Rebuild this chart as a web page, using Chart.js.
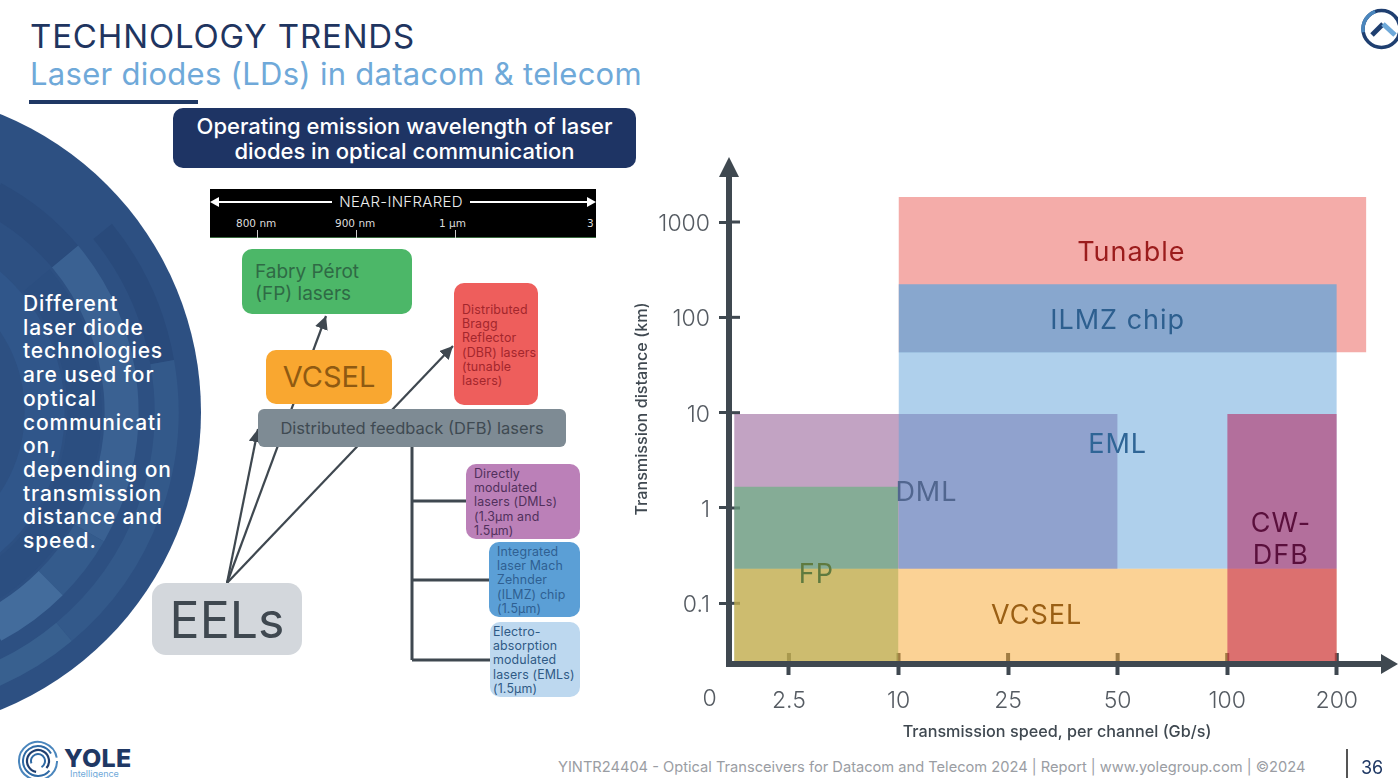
<!DOCTYPE html>
<html lang="en">
<head>
  <meta charset="UTF-8" />
  <title>Laser diodes (LDs) in datacom &amp; telecom</title>
  <script src="https://cdn.jsdelivr.net/npm/chart.js@4.4.0"></script>
  <style>
    * { box-sizing: border-box; margin: 0; padding: 0; }
    html, body { width: 1398px; height: 778px; overflow: hidden; background: #fff; font-family: 'Inter', sans-serif; }
    .abs { position: absolute; }
    .box { position: absolute; border-radius: 10px; }
    .small { font-size: 12.4px; line-height: 14.2px; letter-spacing: .15px; padding-top: 3px; }
    #chart { position: absolute; left: 620px; top: 150px; }
    svg { position: absolute; left: 0; top: 0; }
  </style>
</head>
<body>
  <svg id="decor" width="1398" height="778"></svg>

  <div class="abs" style="left:30px;top:16px;font-size:33px;line-height:40px;letter-spacing:.85px;color:#1f3560">TECHNOLOGY TRENDS</div>
  <div class="abs" style="left:30px;top:54px;font-size:31px;line-height:40px;letter-spacing:.28px;color:#6fa9d9;white-space:nowrap">Laser diodes (LDs) in datacom &amp; telecom</div>
  <div class="abs" style="left:29px;top:100px;width:169px;height:4px;background:#1f3864"></div>

  <div class="abs" style="left:23px;top:292px;font-size:21px;line-height:23.7px;font-weight:500;letter-spacing:.9px;color:#fff;white-space:nowrap">Different<br>laser diode<br>technologies<br>are used for<br>optical<br>communicati<br>on,<br>depending on<br>transmission<br>distance and<br>speed.</div>

  <div class="box" style="left:173px;top:108px;width:463px;height:60px;background:#1e3464;color:#fff;text-align:center;font-size:22px;line-height:25px;font-weight:500;padding-top:6px">Operating emission wavelength of laser<br>diodes in optical communication</div>

  <!-- spectrum strip -->
  <div class="abs" style="left:210px;top:189px;width:386px;height:49px;background:#000;border-bottom:1px solid #3a6a3f;color:#ddd;font-family:'DejaVu Sans';font-size:10.5px">
    <div class="abs" style="left:8px;top:12px;width:370px;height:1.5px;background:#fff"></div>
    <div class="abs" style="left:0;top:8px;border:5px solid transparent;border-left:0;border-right:9px solid #fff;width:0;height:0"></div>
    <div class="abs" style="right:0;top:8px;border:5px solid transparent;border-right:0;border-left:9px solid #fff;width:0;height:0"></div>
    <div class="abs" style="left:122px;top:4px;width:138px;background:#000;text-align:center;font-family:'Inter';font-size:15px;line-height:18px;font-weight:300;color:#eee;letter-spacing:.3px">NEAR-INFRARED</div>
    <div class="abs" style="left:26px;top:28px">800 nm</div>
    <div class="abs" style="left:125px;top:28px">900 nm</div>
    <div class="abs" style="left:229px;top:28px">1 µm</div>
    <div class="abs" style="left:377px;top:28px">3</div>
    <div class="abs" style="left:47px;top:41px;width:1px;height:8px;background:#ccc"></div>
    <div class="abs" style="left:146px;top:41px;width:1px;height:8px;background:#ccc"></div>
    <div class="abs" style="left:245px;top:41px;width:1px;height:8px;background:#ccc"></div>
  </div>

  <div class="box" style="left:242px;top:249px;width:170px;height:65px;background:#4cb768;color:#2f6a45;font-size:19px;line-height:22px;padding:12px 0 0 13px">Fabry Pérot<br>(FP) lasers</div>
  <div class="box" style="left:266px;top:350px;width:126px;height:54px;background:#f9a730;color:#8f5a12;font-size:29px;line-height:54px;text-align:center">VCSEL</div>
  <div class="box small" style="left:454px;top:283px;width:84px;height:122px;background:#ee5e5c;color:#a3262c;padding:20px 0 0 8px">Distributed<br>Bragg<br>Reflector<br>(DBR) lasers<br>(tunable<br>lasers)</div>
  <div class="box" style="left:258px;top:409px;width:308px;height:38px;border-radius:6px;background:#7e8b94;color:#3f4a52;font-size:16.5px;line-height:38px;text-align:center;white-space:nowrap">Distributed feedback (DFB) lasers</div>
  <div class="box small" style="left:466px;top:464px;width:114px;height:75px;background:#bb80b8;color:#51305c;padding-left:8px">Directly<br>modulated<br>lasers (DMLs)<br>(1.3µm and<br>1.5µm)</div>
  <div class="box small" style="left:489px;top:542px;width:91px;height:75px;background:#5b9fd6;color:#2f5f92;padding-left:8px">Integrated<br>laser Mach<br>Zehnder<br>(ILMZ) chip<br>(1.5µm)</div>
  <div class="box small" style="left:490px;top:622px;width:90px;height:75px;background:#bdd8ef;color:#2f5a85;padding-left:3px">Electro-<br>absorption<br>modulated<br>lasers (EMLs)<br>(1.5µm)</div>
  <div class="box" style="left:152px;top:583px;width:150px;height:72px;border-radius:14px;background:#d3d7dc;color:#3f4850;font-size:50px;line-height:74px;text-align:center">EELs</div>

  <canvas id="chart" width="778" height="600"></canvas>

  <!-- footer -->
  <div class="abs" style="left:64px;top:744px;font-size:25px;line-height:28px;font-weight:800;letter-spacing:.3px;color:#1f3864">YOLE</div>
  <div class="abs" style="left:70px;top:769px;font-size:9px;line-height:10px;color:#6fa9d9">Intelligence</div>
  <div class="abs" style="left:558px;top:758px;font-size:14.65px;line-height:18px;color:#9a9da3;white-space:nowrap">YINTR24404 - Optical Transceivers for Datacom and Telecom 2024 | Report | www.yolegroup.com | ©2024</div>
  <div class="abs" style="left:1346px;top:749px;width:1.5px;height:29px;background:#555"></div>
  <div class="abs" style="left:1361px;top:757px;font-size:18px;line-height:22px;color:#1f3864">36</div>

  <script>
    // axis stops, equally spaced on the slide
    const speedTicks = ['2.5', '10', '25', '50', '100', '200'];
    const speedStops = [1, 2, 3, 4, 5, 6];
    const distanceTicks = [0.1, 1, 10, 100, 1000];

    // technology blocks, first one ends up on top
    const techNames  = ['CW-DFB', 'VCSEL', 'EML', 'FP', 'DML', 'ILMZ chip', 'Tunable'];
    const speedFrom  = [5, 0.5, 2, 0.5, 0.5, 2, 2];
    const speedTo    = [6, 6, 6, 2, 4, 6, 6.27];
    const distFrom   = [0.0248, 0.0248, 0.231, 0.0248, 0.231, 42.5, 43];
    const distTo     = [9.7, 0.231, 42.5, 1.67, 9.7, 222, 1830];
    const techFills  = ['rgba(185,3,68,.47)', 'rgba(247,170,55,.53)', 'rgba(95,161,217,.5)', 'rgba(94,178,120,.6)',
                        'rgba(133,71,135,.5)', 'rgba(90,165,222,.7)', 'rgba(233,89,83,.5)'];

    // block captions
    const captionText = ['Tunable', 'ILMZ chip', 'EML', 'DML', 'FP', 'VCSEL', 'CW-', 'DFB'];
    const captionX    = [4.125, 4, 4, 2.255, 1.25, 3.26, 5.49, 5.49];
    const captionY    = [496, 96, 4.8, 1.5, 0.208, 0.0773, 0.713, 0.329];
    const captionInk  = ['#9b1c1c', '#2d5f8f', '#2f6596', '#51668f', '#5f7a3f', '#9a5f14', '#5a0f3c', '#5a0f3c'];

    const AXIS = '#3f4850';
    const FONT = 'Inter';

    const slideAxes = {
      id: 'slideAxes',
      // inner half of the tick marks, under the blocks
      beforeDatasetsDraw(chart) {
        const { ctx, scales: { x, y } } = chart;
        ctx.save();
        ctx.fillStyle = AXIS;
        speedStops.forEach(v => ctx.fillRect(x.getPixelForValue(v) - 2, y.bottom - 11, 4, 11));
        distanceTicks.forEach(v => ctx.fillRect(x.left, y.getPixelForValue(v) - 1.5, 11, 3));
        ctx.restore();
      },
      afterDatasetsDraw(chart) {
        const { ctx, scales: { x, y } } = chart;
        ctx.save();
        ctx.fillStyle = AXIS;
        // arrow heads
        ctx.beginPath();
        ctx.moveTo(x.left, y.top - 15);
        ctx.lineTo(x.left + 10, y.top + 5);
        ctx.lineTo(x.left - 10, y.top + 5);
        ctx.fill();
        ctx.beginPath();
        ctx.moveTo(x.right + 13, y.bottom);
        ctx.lineTo(x.right - 4, y.bottom - 10);
        ctx.lineTo(x.right - 4, y.bottom + 10);
        ctx.fill();
        ctx.textAlign = 'center';
        ctx.textBaseline = 'middle';
        // axis titles are not centred on the axes, so they are placed by hand
        ctx.fillStyle = '#3f4850';
        ctx.font = '500 16.2px ' + FONT;
        ctx.fillText('Transmission speed, per channel (Gb/s)', x.left + 328, y.bottom + 68);
        ctx.save();
        ctx.translate(x.left - 87, y.bottom - 255);
        ctx.rotate(-Math.PI / 2);
        ctx.fillText('Transmission distance (km)', 0, 0);
        ctx.restore();
        // the "0" sits left of the y axis
        ctx.fillStyle = '#555b62';
        ctx.font = '300 23px ' + FONT;
        ctx.fillText('0', x.getPixelForValue(0.277), y.bottom + 35);
        // captions
        ctx.font = '27px ' + FONT;
        ctx.letterSpacing = '1px';
        captionText.forEach((t, i) => {
          ctx.fillStyle = captionInk[i];
          ctx.fillText(t, x.getPixelForValue(captionX[i]), y.getPixelForValue(captionY[i]) + 2);
        });
        ctx.restore();
      }
    };

    new Chart(document.getElementById('chart'), {
      type: 'line',
      data: {
        datasets: techNames.map((name, i) => ({
          label: name,
          data: [{ x: speedFrom[i], y: distTo[i] }, { x: speedTo[i], y: distTo[i] }],
          fill: { value: distFrom[i] },
          backgroundColor: techFills[i],
          borderColor: 'transparent',
          borderWidth: 0,
          pointRadius: 0,
          tension: 0
        }))
      },
      plugins: [slideAxes],
      options: {
        responsive: false,
        animation: false,
        layout: { padding: { top: 22, right: 13 } },
        plugins: { legend: { display: false }, tooltip: { enabled: false } },
        scales: {
          x: {
            type: 'linear',
            min: 0.453,
            max: 6.44,
            afterFit(s) { s.height = 86; s.paddingLeft = 0; s.paddingRight = 0; },
            afterBuildTicks(s) { s.ticks = speedStops.map(value => ({ value })); },
            grid: { drawOnChartArea: false, tickLength: 11, tickWidth: 4, tickColor: AXIS },
            border: { color: AXIS, width: 6 },
            ticks: {
              autoSkip: false, maxRotation: 0, padding: 12, color: '#555b62',
              font: { family: FONT, size: 23, weight: 300 },
              callback: v => speedTicks[speedStops.indexOf(v)]
            }
          },
          y: {
            type: 'logarithmic',
            min: 0.0231,
            max: 3346,
            afterFit(s) { s.width = 109; s.paddingTop = 0; s.paddingBottom = 0; },
            afterBuildTicks(s) { s.ticks = distanceTicks.map(value => ({ value })); },
            grid: { drawOnChartArea: false, tickLength: 10, tickWidth: 3, tickColor: AXIS },
            border: { color: AXIS, width: 6 },
            ticks: {
              autoSkip: false, padding: 9, color: '#555b62', labelOffset: 2,
              font: { family: FONT, size: 23, weight: 300 },
              callback: v => String(v)
            }
          }
        }
      }
    });

    // slide artwork: big disc, connectors, logos
    const NS = 'http://www.w3.org/2000/svg';
    const decor = document.getElementById('decor');
    function el(tag, attrs) {
      const n = document.createElementNS(NS, tag);
      Object.keys(attrs).forEach(k => n.setAttribute(k, attrs[k]));
      decor.appendChild(n);
      return n;
    }
    function arc(cx, cy, r, w, a0, a1, color) {
      const p = a => [cx + r * Math.cos(a * Math.PI / 180), cy + r * Math.sin(a * Math.PI / 180)];
      const [x0, y0] = p(a0), [x1, y1] = p(a1);
      el('path', { d: `M${x0} ${y0}A${r} ${r} 0 ${a1 - a0 > 180 ? 1 : 0} 1 ${x1} ${y1}`, fill: 'none', stroke: color, 'stroke-width': w });
    }
    el('circle', { cx: -120.4, cy: 412, r: 321.4, fill: '#2d5082' });
    [[287, 24, -39, -10, '#294a7b'], [287, 24, -10, 50, '#33598a'], [287, 24, 50, 68, '#38608f'],
     [242, 34, -40, 30, '#3a6192'], [242, 34, 30, 45, '#345b8c'], [242, 34, 45, 62, '#436c9c'],
     [242, 34, -62, -40, '#2a4b7c'], [205, 34, -40, 60, '#2b4e80'], [165, 40, -50, 50, '#30568a']
    ].forEach(a => arc(-120.4, 412, a[0], a[1], a[2], a[3], a[4]));

    // connectors from the EELs box
    el('defs', {}).innerHTML = '<marker id="tip" markerWidth="7" markerHeight="7" refX="6" refY="3" orient="auto"><path d="M0 0L6 3L0 6Z" fill="#3f4850"/></marker>';
    [[258, 429], [326, 316], [453, 346]].forEach(t => {
      el('line', { x1: 227, y1: 583, x2: t[0], y2: t[1], stroke: '#3f4850', 'stroke-width': 2.2, 'marker-end': 'url(#tip)' });
    });
    el('path', { d: 'M412 447V660M412 501H466M412 580H490M412 660H490', fill: 'none', stroke: '#3f4850', 'stroke-width': 3 });

    // top right mark
    el('circle', { cx: 1381.5, cy: 29, r: 18.5, fill: 'none', stroke: '#1f3f70', 'stroke-width': 3.5 });
    arc(1381.5, 29, 18.5, 3.5, 170, 250, '#4a86bd');
    el('path', { d: 'M1372 35L1383 24', stroke: '#1f3f70', 'stroke-width': 5, fill: 'none' });
    el('path', { d: 'M1383 24L1395 35', stroke: '#6fa9d9', 'stroke-width': 5, fill: 'none' });

    // logo swirl
    [[19, 2, 0, 350, '#4a86bd'], [15, 2, 40, 330, '#2f6aa5'], [11, 2.2, 100, 400, '#1f3f70'], [7, 2, 160, 420, '#2f6aa5']]
      .forEach(a => arc(38, 761, a[0], a[1], a[2], a[3], a[4]));
  </script>
</body>
</html>
